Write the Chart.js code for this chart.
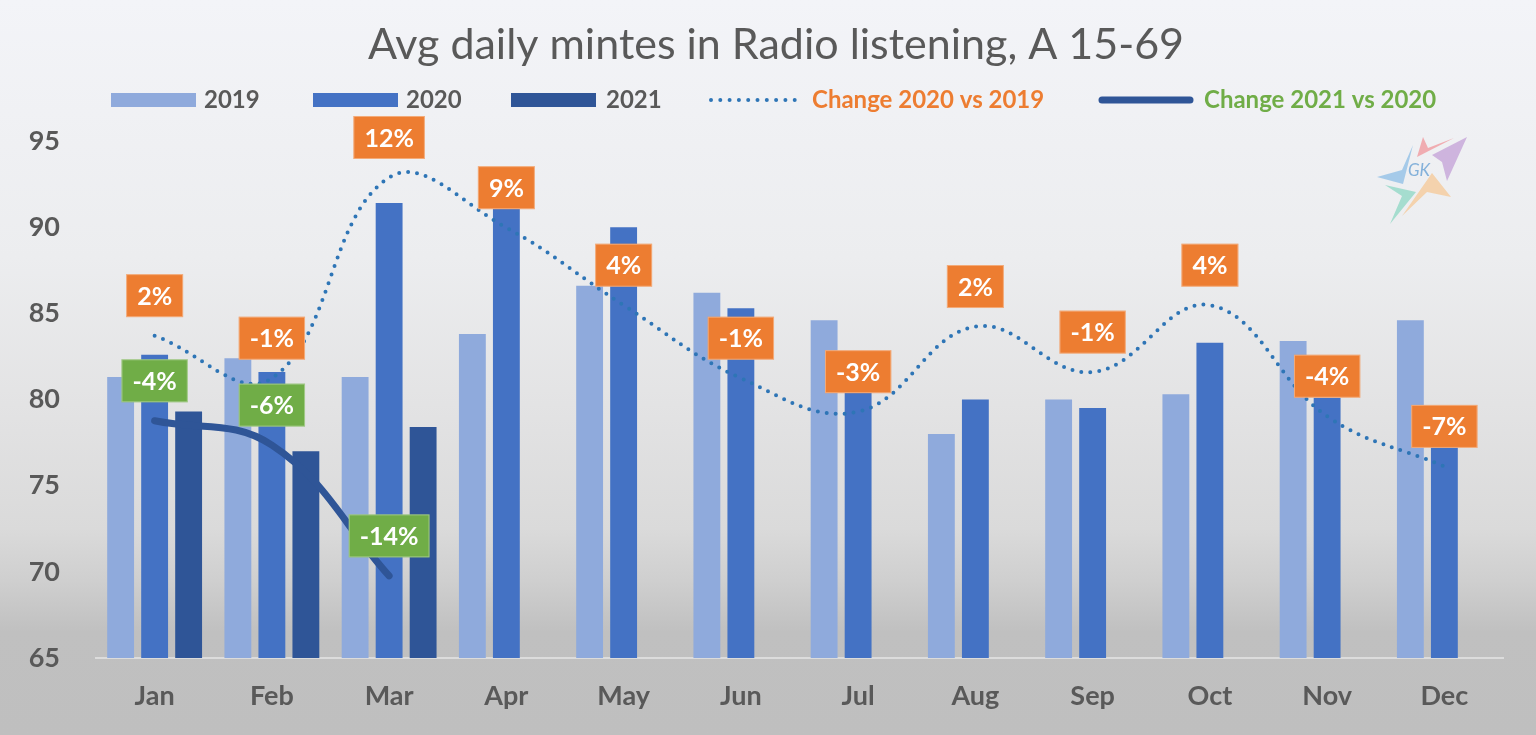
<!DOCTYPE html>
<html>
<head>
<meta charset="utf-8">
<script src="https://cdn.jsdelivr.net/npm/chart.js@4.4.1/dist/chart.umd.min.js"></script>
<style>
html,body{margin:0;padding:0;overflow:hidden;background:#BFBFBF}
canvas{display:block}
</style>
</head>
<body>
<canvas id="c" width="1536" height="735"></canvas>
<script>
// ---- data ----
const TITLE = 'Avg daily mintes in Radio listening, A 15-69';
const months = ['Jan','Feb','Mar','Apr','May','Jun','Jul','Aug','Sep','Oct','Nov','Dec'];
const y2019 = [81.3, 82.4, 81.3, 83.8, 86.6, 86.2, 84.6, 78.0, 80.0, 80.3, 83.4, 84.6];
const y2020 = [82.6, 81.6, 91.4, 91.3, 90.0, 85.3, 82.0, 80.0, 79.5, 83.3, 80.1, 78.7];
const y2021 = [79.3, 77.0, 78.4, null, null, null, null, null, null, null, null, null];
const chg2020vs2019 = [1.6, -1.2, 12.0, 8.7, 3.6, -1.2, -3.4, 2.2, -0.8, 3.6, -3.7, -7.0];
const chg2021vs2020 = [-4.0, -5.6, -14.2, null, null, null, null, null, null, null, null, null];
const yTicks = {min: 65, max: 95, step: 5};

const FONT = 'Lato';
const GREY = '#595959';
const ORANGE = '#ED7D31';
const GREEN = '#70AD47';

// ---- plugins ----
const bgPlugin = {
  id: 'bg',
  beforeDraw(chart) {
    const c = chart.ctx, W = chart.width, H = chart.height;
    const g = c.createLinearGradient(0, 0, 0, H);
    g.addColorStop(0, '#F3F4F8');
    g.addColorStop(0.35, '#ECEDEF');
    g.addColorStop(0.55, '#E3E3E4');
    g.addColorStop(0.72, '#DADADA');
    g.addColorStop(0.79, '#CFCFCF');
    g.addColorStop(0.86, '#C0C0C0');
    g.addColorStop(1, '#BFBFBF');
    c.save(); c.fillStyle = g; c.fillRect(0, 0, W, H); c.restore();
  }
};

const titlePlugin = {
  id: 'ttl',
  afterDraw(chart) {
    const c = chart.ctx;
    c.save();
    c.font = `400 43px ${FONT}`;
    c.fillStyle = GREY;
    c.textAlign = 'center';
    c.textBaseline = 'middle';
    c.fillText(TITLE, 776, 45);
    c.restore();
  }
};

const legendPos = [
  {ds: 0, x0: 111, x1: 196, tx: 204, kind: 'box', tc: GREY},
  {ds: 1, x0: 313, x1: 398, tx: 406, kind: 'box', tc: GREY},
  {ds: 2, x0: 511, x1: 596, tx: 606, kind: 'box', tc: GREY},
  {ds: 3, x0: 711, x1: 795, tx: 812, kind: 'dots', tc: ORANGE},
  {ds: 4, x0: 1102, x1: 1190, tx: 1204, kind: 'line', tc: GREEN}
];
const legendPlugin = {
  id: 'lg',
  afterDraw(chart) {
    const c = chart.ctx, yc = 100;
    c.save();
    legendPos.forEach(p => {
      const ds = chart.data.datasets[p.ds];
      if (p.kind === 'box') {
        c.fillStyle = ds.backgroundColor;
        c.fillRect(p.x0, yc - 7, p.x1 - p.x0, 14);
      } else if (p.kind === 'dots') {
        c.strokeStyle = ds.borderColor; c.lineWidth = 4; c.lineCap = 'round';
        c.setLineDash([0, 9.3]);
        c.beginPath(); c.moveTo(p.x0, yc); c.lineTo(p.x1, yc); c.stroke();
        c.setLineDash([]);
      } else {
        c.strokeStyle = ds.borderColor; c.lineWidth = 7; c.lineCap = 'round';
        c.beginPath(); c.moveTo(p.x0, yc); c.lineTo(p.x1, yc); c.stroke();
      }
      c.font = `700 24px ${FONT}`;
      c.fillStyle = p.tc;
      c.textAlign = 'left'; c.textBaseline = 'middle';
      c.fillText(ds.label, p.tx, yc);
    });
    c.restore();
  }
};

function fmtPct(v) { return Math.round(v) + '%'; }
const labelPlugin = {
  id: 'lbl',
  afterDatasetsDraw(chart) {
    const c = chart.ctx;
    c.save();
    c.font = `700 25px ${FONT}`;
    c.textAlign = 'center'; c.textBaseline = 'middle';
    [[3, ORANGE], [4, GREEN]].forEach(([di, col]) => {
      const meta = chart.getDatasetMeta(di);
      const vals = chart.data.datasets[di].data;
      meta.data.forEach((pt, i) => {
        const v = vals[i];
        if (v === null || v === undefined) return;
        const t = fmtPct(v);
        const w = c.measureText(t).width + 22, h = 43;
        const cx = pt.x, cy = pt.y - 40;
        c.fillStyle = col;
        c.fillRect(cx - w / 2, cy - h / 2, w, h);
        c.strokeStyle = 'rgba(255,255,255,0.35)'; c.lineWidth = 1;
        c.strokeRect(cx - w / 2 + 0.5, cy - h / 2 + 0.5, w - 1, h - 1);
        c.fillStyle = '#FFFFFF';
        c.fillText(t, cx, cy + 1);
      });
    });
    c.restore();
  }
};

const logoPlugin = {
  id: 'logo',
  afterDraw(chart) {
    const c = chart.ctx;
    const shapes = [
      ['rgba(240,150,155,0.75)', [[1423,137],[1428,148],[1454,138],[1417,157]]],
      ['rgba(195,160,215,0.75)', [[1467,137],[1447,181],[1442,162],[1432,155]]],
      ['rgba(140,190,230,0.75)', [[1377,177],[1402,170],[1413,145],[1403,184]]],
      ['rgba(140,215,195,0.75)', [[1385,185],[1416,192],[1390,224],[1402,196]]],
      ['rgba(245,200,150,0.75)', [[1432,173],[1451,197],[1427,192],[1402,216]]]
    ];
    c.save();
    shapes.forEach(([col, pts]) => {
      c.fillStyle = col;
      c.beginPath();
      pts.forEach((p, i) => i ? c.lineTo(p[0], p[1]) : c.moveTo(p[0], p[1]));
      c.closePath(); c.fill();
    });
    c.font = `italic 400 17px ${FONT}`;
    c.fillStyle = 'rgba(120,170,215,0.9)';
    c.textAlign = 'center'; c.textBaseline = 'middle';
    c.fillText('GK', 1419, 171);
    c.restore();
  }
};

// ---- chart ----
new Chart(document.getElementById('c'), {
  type: 'bar',
  data: {
    labels: months,
    datasets: [
      {label: '2019', data: y2019, backgroundColor: '#8FAADC', order: 1,
       categoryPercentage: 0.87, barPercentage: 0.79, yAxisID: 'y'},
      {label: '2020', data: y2020, backgroundColor: '#4472C4', order: 1,
       categoryPercentage: 0.87, barPercentage: 0.79, yAxisID: 'y'},
      {label: '2021', data: y2021, backgroundColor: '#2F5597', order: 1,
       categoryPercentage: 0.87, barPercentage: 0.79, yAxisID: 'y'},
      {type: 'line', label: 'Change 2020 vs 2019', data: chg2020vs2019, yAxisID: 'y1',
       borderColor: '#2E75B6', borderWidth: 4, borderDash: [0, 9], borderCapStyle: 'round',
       pointRadius: 0, tension: 0.4, fill: false, order: 0},
      {type: 'line', label: 'Change 2021 vs 2020', data: chg2021vs2020, yAxisID: 'y1',
       borderColor: '#2F5597', borderWidth: 7, borderCapStyle: 'round', borderJoinStyle: 'round',
       pointRadius: 0, tension: 0.4, fill: false, order: 0, spanGaps: false}
    ]
  },
  options: {
    responsive: false,
    animation: false,
    layout: {padding: {top: 141, right: 33, left: 0, bottom: 0}},
    plugins: {legend: {display: false}, title: {display: false}, tooltip: {enabled: false}},
    scales: {
      x: {
        grid: {display: false, drawTicks: false},
        border: {display: true, color: '#DCDCDC', width: 2},
        ticks: {color: GREY, font: {family: FONT, weight: 'bold', size: 27}, padding: 22},
        afterFit(s) { s.height = 77; }
      },
      y: {
        min: yTicks.min, max: yTicks.max,
        grid: {display: false, drawTicks: false},
        border: {display: false},
        ticks: {stepSize: yTicks.step, color: GREY, font: {family: FONT, weight: 'bold', size: 27}, padding: 36},
        afterFit(s) { s.width = 96; }
      },
      y1: {display: false, min: -19.6, max: 14.4}
    }
  },
  plugins: [bgPlugin, logoPlugin, titlePlugin, legendPlugin, labelPlugin]
});
</script>
</body>
</html>
